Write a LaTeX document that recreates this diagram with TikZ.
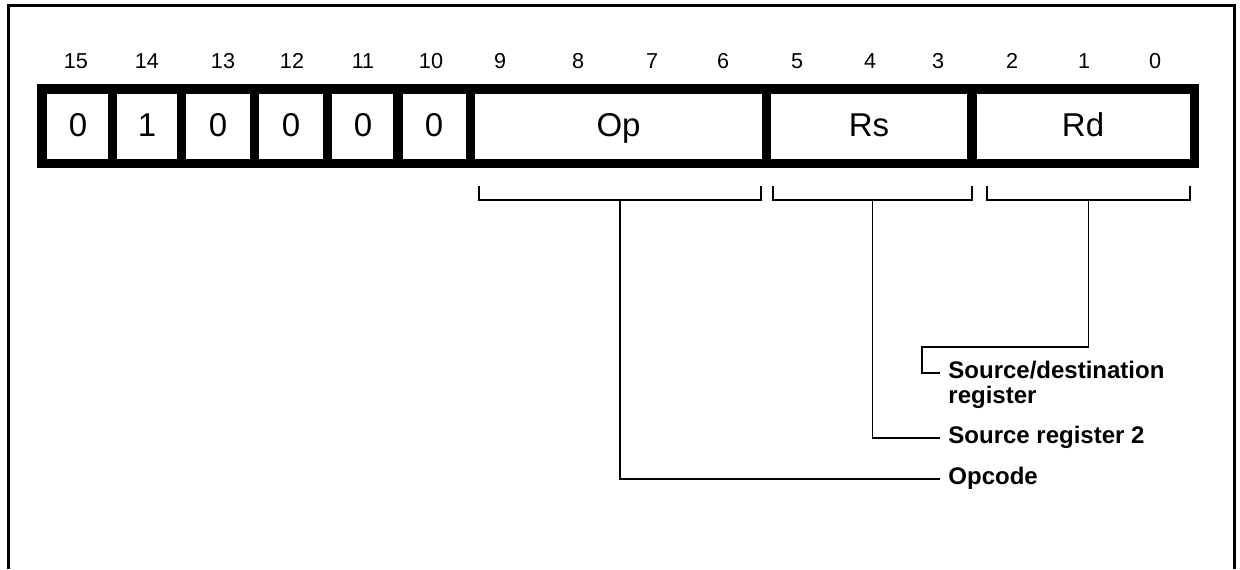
\documentclass[tikz,border=0pt]{standalone}
\usepackage{fontspec}
\setmainfont{Liberation Sans}
\tikzset{
  bitnum/.style={font=\fontsize{10.8}{13}\selectfont, inner sep=0pt, anchor=base},
  field/.style={font=\fontsize{16.5}{20}\selectfont, inner sep=0pt, anchor=base},
  fieldname/.style={font=\fontsize{12}{12.5}\selectfont\bfseries, align=left, anchor=base west, inner sep=0pt},
  leader/.style={line width=0.75pt},
}
\begin{document}
\begin{tikzpicture}[x=0.5pt,y=-0.5pt]
  \useasboundingbox (0,0) rectangle (1240,569);
  \draw[line width=1.5pt] (8,569) |- (1234.5,5.5) -- (1234.5,569);
  % register cells
  \draw[line width=4.75pt] (42,89) rectangle (1194.5,163.5);
  \foreach \x in {112.5,181.5,254.5,327.5,398,470.5,766.5,972}
    \draw[line width=4.75pt] (\x,89) -- (\x,163.5);
  \foreach \b/\x in {15/76,14/147,13/223,12/292,11/363,10/431,9/500,8/578,7/652,6/723,5/797,4/870,3/938,2/1012,1/1084,0/1155}
    \node[bitnum] (bit\b) at (\x,68) {\b};
  \foreach \v/\x/\n in {0/78/b15,1/147/b14,0/218/b13,0/291/b12,0/363/b11,0/434/b10,Op/618.5/op,Rs/869/rs,Rd/1083/rd}
    \node[field] (\n) at (\x,136) {\v};
  % brackets
  \foreach \n/\l/\r in {op/479/761,rs/773/972,rd/987/1190}{
    \draw[leader] (\l,186) |- (\r,200) -- (\r,186);
    \coordinate (mid-\n) at ({(\l+\r)/2},200);
  }
  % field names (base of srcdst is its second line)
  \node[fieldname] (srcdst) at (948,403) {Source/destination\\register};
  \node[fieldname] (src2) at (948,443) {Source register 2};
  \node[fieldname] (opcode) at (948,484) {Opcode};
  \draw[leader] (mid-rd) -- ++(0,147) -| ([xshift=-13pt,yshift=15pt]srcdst.base west) -- ([xshift=-4pt,yshift=15pt]srcdst.base west);
  \draw[leader] (mid-rs) |- ([xshift=-4pt,yshift=2.5pt]src2.base west);
  \draw[leader] (mid-op) |- ([xshift=-4pt,yshift=2.5pt]opcode.base west);
\end{tikzpicture}
\end{document}
